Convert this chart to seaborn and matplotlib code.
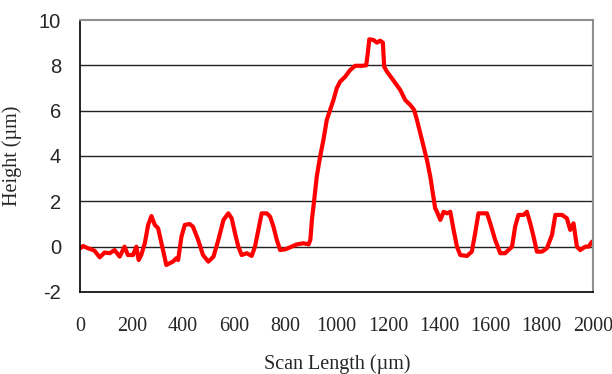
import pandas as pd
import matplotlib
matplotlib.use("Agg")
import matplotlib.pyplot as plt
import seaborn as sns

# profile (scan length in um, height in um)
scan_len = [0, 10, 29, 42, 55, 75, 94, 114, 133, 153, 172, 185, 205, 218, 227, 237,
            251, 264, 277, 290, 303, 316, 326, 335, 348, 361, 374, 381, 394, 407, 426,
            439, 459, 478, 499, 519, 538, 558, 577, 590, 603, 616, 629, 649, 668, 681,
            694, 707, 727, 740, 753, 766, 779, 798, 818, 844, 870, 890, 897, 903, 912,
            922, 935, 948, 961, 974, 987, 1000, 1013, 1033, 1052, 1072, 1098, 1115,
            1121, 1127, 1143, 1157, 1169, 1180, 1185, 1196, 1215, 1234, 1248, 1267,
            1287, 1302, 1313, 1326, 1339, 1352, 1365, 1375, 1384, 1391, 1404, 1417,
            1430, 1443, 1456, 1469, 1482, 1508, 1527, 1540, 1553, 1566, 1586, 1599,
            1618, 1638, 1657, 1670, 1684, 1696, 1709, 1729, 1742, 1755, 1768, 1781,
            1801, 1820, 1840, 1853, 1879, 1898, 1911, 1924, 1937, 1950, 1970, 1983,
            1996]
height = [-0.07, 0.03, -0.07, -0.12, -0.18, -0.47, -0.26, -0.29, -0.15, -0.44, 0.0,
          -0.37, -0.37, 0.0, -0.59, -0.37, 0.15, 0.96, 1.35, 0.96, 0.81, 0.15, -0.37,
          -0.81, -0.73, -0.66, -0.51, -0.59, 0.44, 0.96, 1.0, 0.88, 0.30, -0.37,
          -0.66, -0.44, 0.30, 1.18, 1.47, 1.25, 0.59, 0.0, -0.37, -0.29, -0.41, 0.0,
          0.74, 1.47, 1.47, 1.32, 0.88, 0.30, -0.15, -0.12, -0.03, 0.10, 0.15, 0.10,
          0.30, 1.18, 2.06, 3.09, 3.97, 4.71, 5.59, 6.03, 6.47, 6.99, 7.28, 7.50,
          7.79, 7.98, 7.98, 8.0, 8.53, 9.15, 9.12, 9.0, 9.09, 9.0, 7.94, 7.72, 7.43,
          7.13, 6.91, 6.47, 6.25, 6.03, 5.59, 5.0, 4.41, 3.82, 3.09, 2.36, 1.69,
          1.54, 1.18, 1.54, 1.47, 1.54, 0.74, 0.0, -0.37, -0.41, -0.22, 0.59, 1.47,
          1.47, 1.47, 1.03, 0.30, -0.29, -0.29, -0.15, 0.0, 0.88, 1.40, 1.40, 1.54,
          1.03, 0.44, -0.22, -0.22, -0.07, 0.52, 1.40, 1.40, 1.25, 0.74, 1.03, 0.0,
          -0.15, 0.0, 0.0, 0.22]

y_ticks = [-2, 0, 2, 4, 6, 8, 10]
x_ticks = [0, 200, 400, 600, 800, 1000, 1200, 1400, 1600, 1800, 2000]

df = pd.DataFrame({"scan": scan_len, "height": height})

sns.set_style("white")
plt.rcParams['font.family'] = ['Liberation Serif', 'DejaVu Serif']

fig = plt.figure(figsize=(6.12, 3.74), dpi=100)
ax = fig.add_axes([0.1315, 0.2193, 0.8375, 0.7272])

sns.lineplot(data=df, x="scan", y="height", color="#ff0000", linewidth=3.0,
             ax=ax, sort=False)

ax.set_xlim(0, 2000)
ax.set_ylim(-2, 10)
ax.set_xticks(x_ticks)
ax.set_yticks(y_ticks)
ax.set_yticklabels([str(v) for v in y_ticks], family=['Liberation Sans', 'DejaVu Sans'],
                   fontsize=14.5)
ax.set_xticklabels([str(v) for v in x_ticks], fontsize=14.5)

# horizontal grid like the spreadsheet original
for v in [0, 2, 4, 6, 8]:
    ax.axhline(v, color="#222222", linewidth=1.0, zorder=0)

ax.tick_params(axis="x", length=0, pad=18)
ax.tick_params(axis="y", length=6, width=1, direction="out", color="black", pad=8)

for side in ["top", "right"]:
    ax.spines[side].set_color("#909090")
    ax.spines[side].set_linewidth(1.5)
for side in ["left", "bottom"]:
    ax.spines[side].set_color("black")
    ax.spines[side].set_linewidth(1.2)

ax.set_xlabel("Scan Length (µm)", fontsize=14.5, labelpad=13)
ax.set_ylabel("Height (µm)", fontsize=14.5, labelpad=12)

fig.savefig("out.png", dpi=100)
